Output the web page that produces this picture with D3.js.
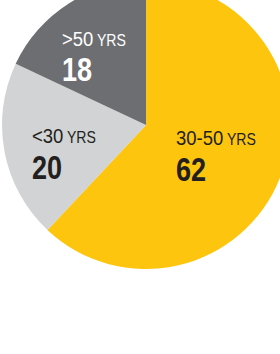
<!DOCTYPE html>
<html>
<head>
<meta charset="utf-8">
<script src="https://cdn.jsdelivr.net/npm/d3@7"></script>
<style>
  body { margin: 0; background: #fff; }
  svg { display: block; }
  text { font-family: "Liberation Sans", Arial, sans-serif; }
</style>
</head>
<body>
<div id="chart"></div>
<script>
// age groups, shares (%) and slice colours
var groups = ["30-50", "<30", ">50"];
var shares = [62, 20, 18];
var colors = ["#fdc50e", "#d1d3d4", "#6d6e71"];
var textColors = ["#231f20", "#231f20", "#ffffff"];
var unit = "YRS";

var width = 280, height = 354;
var cx = 146, cy = 125, radius = 144;

var svg = d3.select("#chart").append("svg")
    .attr("width", width)
    .attr("height", height);

var g = svg.append("g")
    .attr("transform", "translate(" + cx + "," + cy + ")");

var pie = d3.pie().sort(null).value(function(d) { return d; });
var arc = d3.arc().innerRadius(0).outerRadius(radius);

var arcs = pie(shares);

g.selectAll(".slice")
    .data(arcs)
  .enter().append("path")
    .attr("class", "slice")
    .attr("d", arc)
    .attr("fill", function(d, i) { return colors[i]; });

// label positions relative to centre (left edge of text, baseline of first line)
var labelPos = [[30, 20], [-114, 18], [-84, -79.5]];

var labels = g.selectAll(".label")
    .data(arcs)
  .enter().append("g")
    .attr("class", "label")
    .attr("transform", function(d, i) {
      return "translate(" + labelPos[i][0] + "," + labelPos[i][1] + ")";
    })
    .attr("fill", function(d, i) { return textColors[i]; });

// narrow type, like the condensed face of the original
var head = labels.append("text")
    .attr("transform", "scale(0.88,1)");
head.append("tspan")
    .attr("font-size", 21)
    .text(function(d, i) { return groups[i]; });
head.append("tspan")
    .attr("font-size", 16)
    .text(" " + unit);

labels.append("text")
    .attr("transform", "translate(0,35.5) scale(0.82,1)")
    .attr("font-size", 33)
    .attr("font-weight", "bold")
    .text(function(d) { return d.data; });
</script>
</body>
</html>
